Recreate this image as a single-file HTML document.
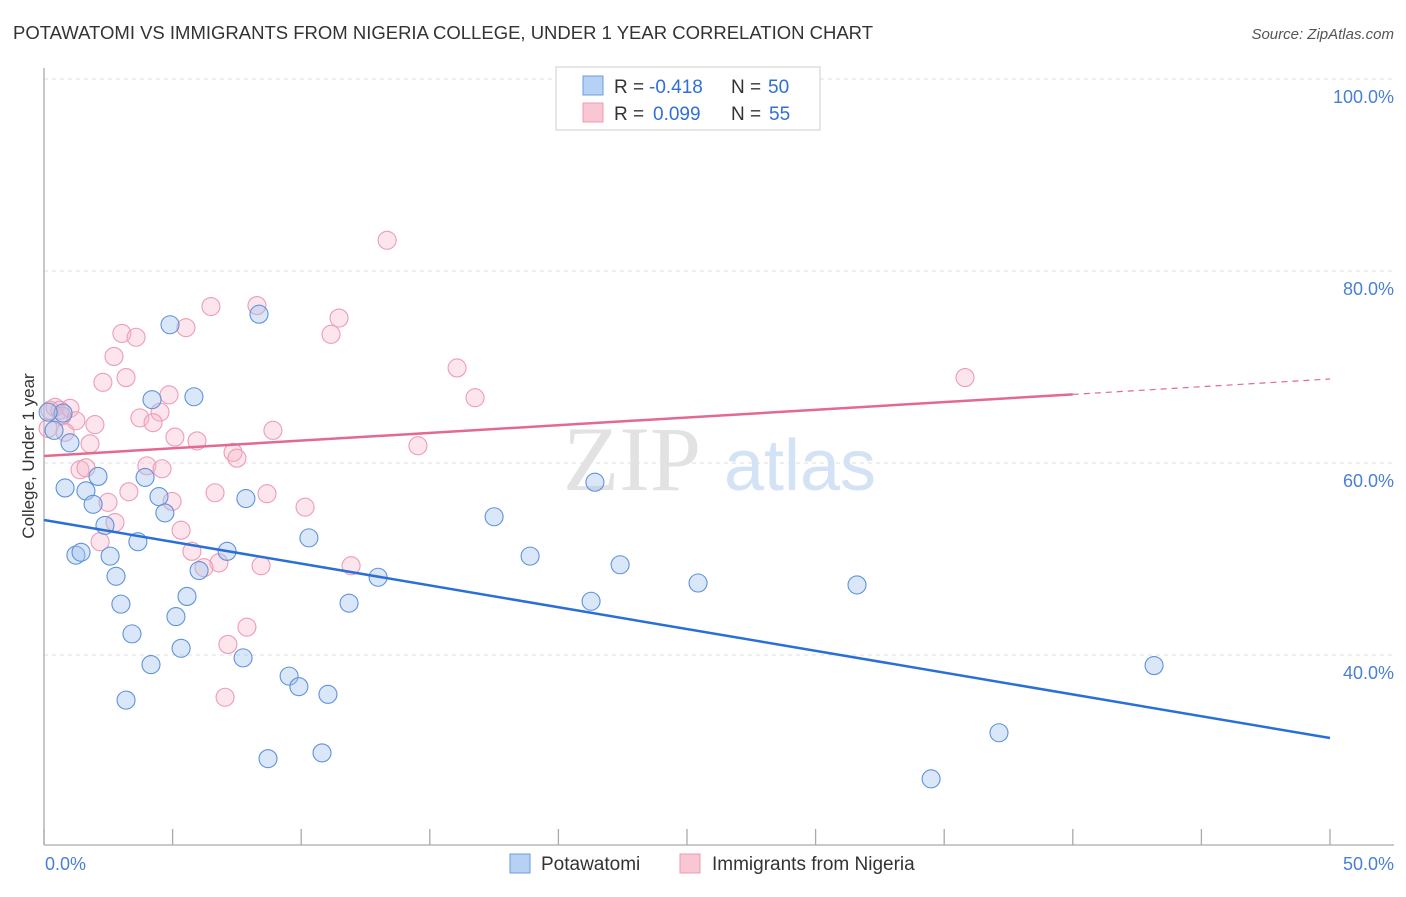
<!DOCTYPE html>
<html><head><meta charset="utf-8"><style>
body{margin:0;background:#fff;font-family:"Liberation Sans",sans-serif}
</style></head><body>
<svg id="chart" width="1406" height="892" xmlns="http://www.w3.org/2000/svg" font-family="Liberation Sans, sans-serif">
<text x="13" y="39" font-size="18" fill="#333" textLength="860" lengthAdjust="spacingAndGlyphs">POTAWATOMI VS IMMIGRANTS FROM NIGERIA COLLEGE, UNDER 1 YEAR CORRELATION CHART</text>
<text x="1394" y="39" font-size="15" fill="#555" text-anchor="end" font-style="italic">Source: ZipAtlas.com</text>
<text transform="translate(34,456) rotate(-90)" font-size="17" fill="#333" text-anchor="middle">College, Under 1 year</text>
<g id="grid"></g>
<g><text x="632" y="490" font-size="92" fill="#e2e2e2" font-family="Liberation Serif, serif" text-anchor="middle">ZIP</text><text x="800" y="490" font-size="72" fill="#d3e2f5" text-anchor="middle">atlas</text></g>
<line x1="44" y1="68" x2="44" y2="845" stroke="#aaa" stroke-width="1.3"/>
<line x1="44" y1="845" x2="1394" y2="845" stroke="#aaa" stroke-width="1.3"/>
<g id="ticks"></g>
<g id="pts"></g>
<g id="trends"></g>
<g>
<rect x="556" y="67" width="264" height="63" fill="#fff" stroke="#ccc"/>
<rect x="583" y="76" width="20" height="19" fill="#b7d1f4" stroke="#6a9be0"/>
<rect x="583" y="103" width="20" height="19" fill="#f9c6d4" stroke="#ec9ab3"/>
<text x="614" y="93" font-size="19" fill="#333">R =</text>
<text x="649" y="93" font-size="19" fill="#2f6fd6">-0.418</text>
<text x="731" y="93" font-size="19" fill="#333">N =</text>
<text x="768" y="93" font-size="19" fill="#2f6fd6">50</text>
<text x="614" y="120" font-size="19" fill="#333">R =</text>
<text x="653" y="120" font-size="19" fill="#2f6fd6">0.099</text>
<text x="731" y="120" font-size="19" fill="#333">N =</text>
<text x="769" y="120" font-size="19" fill="#2f6fd6">55</text>
</g>
<text x="45" y="870" font-size="18" fill="#4a7fd4">0.0%</text>
<text x="1394" y="870" font-size="18" fill="#4a7fd4" text-anchor="end">50.0%</text>
<g>
<rect x="510" y="854" width="20" height="19" fill="#b7d1f4" stroke="#6a9be0"/>
<text x="541" y="870" font-size="19" fill="#333">Potawatomi</text>
<rect x="680" y="854" width="20" height="19" fill="#f9c6d4" stroke="#ec9ab3"/>
<text x="712" y="870" font-size="19" fill="#333">Immigrants from Nigeria</text>
</g>
</svg>
<script>
const yTicks=[100,80,60,40];
const yTickLabels=["100.0%","80.0%","60.0%","40.0%"];
const xTicks=[0,5,10,15,20,25,30,35,40,45,50];
const blueX=[4.90,8.36,4.20,5.83,0.39,1.01,0.82,1.63,2.10,1.91,3.93,4.47,4.70,2.37,3.65,1.24,1.44,2.57,2.80,7.85,7.12,6.03,5.56,2.99,5.13,3.42,5.33,4.16,7.74,9.53,9.91,11.04,3.19,8.71,10.81,10.30,11.86,12.99,17.50,18.90,21.42,21.27,22.40,25.43,31.61,43.16,37.13,34.49,0.74,0.16];
const blueY=[74.4,75.5,66.6,66.9,63.4,62.1,57.4,57.1,58.6,55.7,58.5,56.5,54.8,53.5,51.8,50.4,50.7,50.3,48.2,56.3,50.8,48.8,46.1,45.3,44.0,42.2,40.7,39.0,39.7,37.8,36.7,35.9,35.3,29.2,29.8,52.2,45.4,48.1,54.4,50.3,58.0,45.6,49.4,47.5,47.3,38.9,31.9,27.1,65.2,65.3];
const pinkX=[13.34,8.28,6.49,11.47,11.16,5.52,3.03,3.58,2.72,2.29,3.19,16.06,16.76,35.81,4.86,4.51,3.73,4.24,0.43,0.62,1.01,0.70,1.24,1.98,0.82,1.79,5.09,5.95,8.90,14.54,7.35,7.50,4.00,4.59,1.40,1.63,3.30,2.49,4.98,6.65,8.67,10.15,2.76,5.33,2.18,5.75,6.80,6.22,8.44,11.94,7.89,7.15,7.04,0.23,0.16];
const pinkY=[83.2,76.4,76.3,75.1,73.4,74.1,73.5,73.1,71.1,68.4,68.9,69.9,66.8,68.9,67.1,65.3,64.7,64.2,65.8,65.5,65.7,64.9,64.4,64.0,63.2,62.0,62.7,62.3,63.4,61.8,61.1,60.5,59.7,59.4,59.3,59.5,57.0,55.9,56.0,56.9,56.8,55.4,53.8,53.0,51.8,50.8,49.6,49.1,49.3,49.3,42.9,41.1,35.6,65.5,63.6];
const blueTrend=[54.06,31.35];
const pinkTrend=[60.73,68.75];
const pinkSolidEnd=40;
const NS="http://www.w3.org/2000/svg";
const X=v=>44+v*25.72, Y=v=>79+(100-v)*9.6;
function mk(t,a,p){const e=document.createElementNS(NS,t);for(const k in a)e.setAttribute(k,a[k]);p.appendChild(e);return e;}
const grid=document.getElementById('grid');
yTicks.forEach((v,i)=>{
 const l=mk('line',{x1:44,x2:1394,y1:Y(v),y2:Y(v),stroke:'#ddd','stroke-dasharray':'4,4'},grid);
 
 
 const t=mk('text',{x:1394,y:Y(v)+24,'font-size':18,fill:'#4a7fd4','text-anchor':'end'},grid);
 t.textContent=yTickLabels[i];
 
 
});
const tk=document.getElementById('ticks');
xTicks.forEach(v=>{const l=mk('line',{x1:X(v),x2:X(v),y1:829,y2:845,stroke:'#aaa','stroke-width':1.3},tk);
 
 });
const pts=document.getElementById('pts');
pinkX.forEach((x,i)=>{const c=mk('circle',{cx:X(x),cy:Y(pinkY[i]),r:9,fill:'rgba(246,180,200,0.35)',stroke:'#ee9cb5','stroke-width':1.1},pts);
 
 });
blueX.forEach((x,i)=>{const c=mk('circle',{cx:X(x),cy:Y(blueY[i]),r:9,fill:'rgba(160,195,240,0.4)',stroke:'#5f92dc','stroke-width':1.1},pts);
 
 });
const tr=document.getElementById('trends');
const pv=x=>pinkTrend[0]+(pinkTrend[1]-pinkTrend[0])*x/50;
let l1=mk('line',{x1:X(0),y1:Y(blueTrend[0]),x2:X(50),y2:Y(blueTrend[1]),stroke:'#2a6fd8','stroke-width':2.5},tr);


let l2=mk('line',{x1:X(0),y1:Y(pv(0)),x2:X(pinkSolidEnd),y2:Y(pv(pinkSolidEnd)),stroke:'#e4698f','stroke-width':2.5},tr);


let l3=mk('line',{x1:X(pinkSolidEnd),y1:Y(pv(pinkSolidEnd)),x2:X(50),y2:Y(pv(50)),stroke:'#e4698f','stroke-width':1.2,'stroke-dasharray':'6,5'},tr);


</script>
</body></html>
